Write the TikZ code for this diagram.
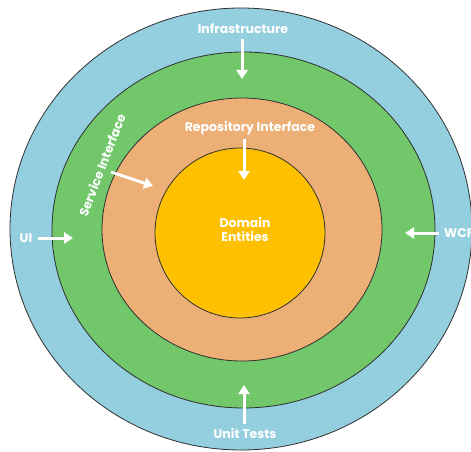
\documentclass[tikz,border=0pt]{standalone}
\usepackage{fontspec}
\setmainfont{Poppins}
\usetikzlibrary{arrows.meta}
\definecolor{ringblue}{HTML}{94CFDF}
\definecolor{ringgreen}{HTML}{71C76A}
\definecolor{ringorange}{HTML}{ECAF75}
\definecolor{ringyellow}{HTML}{FFC000}
\definecolor{ringline}{HTML}{303030}
\tikzset{
  ring/.style={draw=ringline, line width=0.8pt},
  lbl/.style={text=white, font=\bfseries\fontsize{12.5}{15}\selectfont, inner sep=0pt},
  warrow/.style={draw=white, line width=3pt, -{Triangle[width=11pt,length=9pt]}}
}
\begin{document}
\begin{tikzpicture}[x=1pt,y=-1pt]
\useasboundingbox (0,0) rectangle (471,452);
\fill[white] (0,0) rectangle (471,452);
\draw[ring, fill=ringblue] (241,229) ellipse [x radius=231, y radius=221];
\draw[ring, fill=ringgreen] (243.5,230) ellipse [x radius=191.5, y radius=178];
\draw[ring, fill=ringorange] (242,229.5) ellipse [x radius=140, y radius=131.5];
\draw[ring, fill=ringyellow] (240,233) circle [radius=85];

\node[lbl] (infra) at (243,29) {Infrastructure};
\coordinate (infraend) at (242,79);
\draw[warrow] (242,39) -- (infraend);

\node[lbl] (repo) at (250,128) {Repository Interface};
\coordinate (repoend) at (244,180);
\draw[warrow] (244,139) -- (repoend);

\node[lbl, align=center] (domain) at (245,229.5) {Domain\\[-1pt]Entities};

\node[lbl] (ui) at (26,238) {UI};
\coordinate (uiend) at (73,238);
\draw[warrow] (38,238) -- (uiend);

\node[lbl, anchor=west] (wcf) at (444,233) {WCF};
\coordinate (wcfend) at (405,233);
\draw[warrow] (439,233) -- (wcfend);

\node[lbl] (unit) at (245,434) {Unit Tests};
\coordinate (unitend) at (244,385);
\draw[warrow] (244,424) -- (unitend);

\node[lbl, rotate=69] (service) at (102,165) {Service Interface};
\coordinate (servstart) at (111,172);
\coordinate (servend) at (153,186);
\draw[warrow] (servstart) -- (servend);
\end{tikzpicture}
\end{document}
